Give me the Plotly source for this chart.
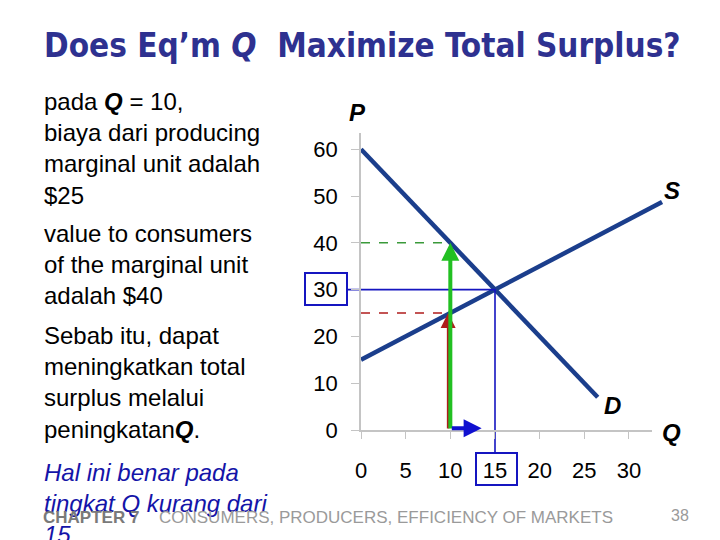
import plotly.graph_objects as go

# ---------------- data ----------------
demand_q = [0, 26.5]
demand_p = [60, 7]
supply_q = [0, 33.7]
supply_p = [15, 48.7]
x_ticks = [0, 5, 10, 15, 20, 25, 30]
y_ticks = [0, 10, 20, 30, 40, 50, 60]
eq_q, eq_p = 15, 30
marg_q = 10
value_p = 40
cost_p = 25
arrow_q_end = 13.5

# ---------------- geometry helpers (reference pixel -> figure coords) ----------------
OFF = 8                 # page body margin
W, H = 720 - OFF, 540 - OFF
X0, Y0 = 361, 430       # reference pixel of origin
SX, SY = 8.933, 4.68    # pixels per unit

def qx(px):
    return (px - X0) / SX

def py(pyx):
    return (Y0 - pyx) / SY

def fx(px):
    return (px - OFF) / W

def fy(pyx):
    return (540 - pyx) / H

AX_QMAX, AX_PMAX = 32.6, 63.5

fig = go.Figure()

navy = "#1b3e8c"
blue = "#1515c0"
green = "#22c022"
dgreen = "#3a9a3a"
red = "#b01c1c"

# supply & demand
fig.add_trace(go.Scatter(x=demand_q, y=demand_p, mode="lines",
                         line=dict(color=navy, width=4.5), hoverinfo="skip"))
fig.add_trace(go.Scatter(x=supply_q, y=supply_p, mode="lines",
                         line=dict(color=navy, width=4.5), hoverinfo="skip"))
# dashed guide lines
fig.add_trace(go.Scatter(x=[0, marg_q], y=[value_p, value_p], mode="lines",
                         line=dict(color=dgreen, width=1.6, dash="dash"), hoverinfo="skip"))
fig.add_trace(go.Scatter(x=[0, marg_q], y=[cost_p, cost_p], mode="lines",
                         line=dict(color=red, width=1.6, dash="dash"), hoverinfo="skip"))
# equilibrium drop lines (to boxed labels)
fig.add_trace(go.Scatter(x=[qx(347), eq_q, eq_q], y=[eq_p, eq_p, py(453)], mode="lines",
                         line=dict(color=blue, width=1.6), hoverinfo="skip"))

# dummy trace on the visible axes
fig.add_trace(go.Scatter(x=[eq_q], y=[eq_p], xaxis="x2", yaxis="y2", mode="markers",
                         marker=dict(opacity=0), hoverinfo="skip"))

# boxes around 30 and 15
fig.add_shape(type="rect", xref="x", yref="y", x0=qx(305), x1=qx(347),
              y0=py(305), y1=py(273), line=dict(color=blue, width=2))
fig.add_shape(type="rect", xref="x", yref="y", x0=qx(476), x1=qx(517),
              y0=py(485), y1=py(453), line=dict(color=blue, width=2))

ann = []
# arrows
ann.append(dict(x=marg_q - 0.25, y=cost_p, ax=marg_q - 0.25, ay=0, xref="x", yref="y",
                axref="x", ayref="y", showarrow=True, arrowhead=2, arrowsize=1.2,
                arrowwidth=2.5, arrowcolor=red, text=""))
ann.append(dict(x=marg_q, y=value_p, ax=marg_q, ay=0, xref="x", yref="y",
                axref="x", ayref="y", showarrow=True, arrowhead=2, arrowsize=0.9,
                arrowwidth=4, arrowcolor=green, text=""))
ann.append(dict(x=arrow_q_end, y=0.35, ax=marg_q, ay=0.35, xref="x", yref="y",
                axref="x", ayref="y", showarrow=True, arrowhead=2, arrowsize=0.9,
                arrowwidth=4, arrowcolor="#1010d0", text=""))

lab_font = dict(family="Liberation Sans, Arial, sans-serif", size=24, color="black")
for t, px_, pyx in [("P", 357, 112), ("S", 672, 190), ("D", 612, 405), ("Q", 671, 432)]:
    ann.append(dict(x=qx(px_), y=py(pyx), xref="x", yref="y", text=f"<b><i>{t}</i></b>",
                    showarrow=False, font=lab_font))

# title
ann.append(dict(x=fx(42), y=fy(46), xref="paper", yref="paper", xanchor="left",
                yanchor="middle", showarrow=False,
                text="<b>Does Eq’m <i>Q</i>  Maximize Total Surplus?</b>",
                font=dict(family="Liberation Sans Narrow, DejaVu Sans Condensed, Arial Narrow, sans-serif",
                          size=33, color="#2e3190")))

body_font = dict(family="Liberation Sans, Arial, sans-serif", size=24, color="black")
blocks = [
    (86, "pada <b><i>Q</i></b> = 10,<br>biaya dari producing<br>marginal unit adalah<br>$25"),
    (218, "value to consumers<br>of the marginal unit<br>adalah $40"),
    (320, "Sebab itu, dapat<br>meningkatkan total<br>surplus melalui<br>peningkatan<b><i>Q</i></b>."),
]
for top, txt in blocks:
    ann.append(dict(x=fx(42), y=fy(top), xref="paper", yref="paper", xanchor="left",
                    yanchor="top", align="left", showarrow=False, text=txt, font=body_font))

ann.append(dict(x=fx(42), y=fy(457), xref="paper", yref="paper", xanchor="left",
                yanchor="top", align="left", showarrow=False,
                text="<i>Hal ini benar pada<br>tingkat Q kurang dari<br>15</i>",
                font=dict(family="Liberation Sans, Arial, sans-serif", size=24, color="#1414a8")))

# footer
ann.append(dict(x=fx(41), y=fy(517), xref="paper", yref="paper", xanchor="left",
                yanchor="middle", showarrow=False, text="<b>CHAPTER 7</b>",
                font=dict(family="Liberation Sans, Arial, sans-serif", size=17, color="#7a7a7a")))
ann.append(dict(x=fx(157), y=fy(517), xref="paper", yref="paper", xanchor="left",
                yanchor="middle", showarrow=False,
                text="CONSUMERS, PRODUCERS, EFFICIENCY OF MARKETS",
                font=dict(family="Liberation Sans, Arial, sans-serif", size=17, color="#9a9a9a")))
ann.append(dict(x=fx(691), y=fy(515), xref="paper", yref="paper", xanchor="right",
                yanchor="middle", showarrow=False, text="38",
                font=dict(family="Liberation Sans, Arial, sans-serif", size=16, color="#9a9a9a")))

tick_font = dict(family="Liberation Sans, Arial, sans-serif", size=22, color="black")

fig.update_layout(
    template="none",
    width=W, height=H, margin=dict(l=0, r=0, t=0, b=0, pad=0, autoexpand=False),
    paper_bgcolor="white", plot_bgcolor="rgba(0,0,0,0)",
    showlegend=False,
    xaxis=dict(range=[qx(OFF), qx(720)], visible=False, fixedrange=True, automargin=False),
    yaxis=dict(range=[py(540), py(OFF)], visible=False, fixedrange=True, automargin=False),
    xaxis2=dict(domain=[fx(X0), fx(X0 + AX_QMAX * SX)], range=[0, AX_QMAX],
                anchor="y2", showgrid=False, zeroline=False, showline=True, automargin=False,
                linecolor="#c4c4c4", linewidth=1.5, ticks="outside", ticklen=7,
                tickcolor="#c4c4c4", tickwidth=1.2, tickvals=x_ticks,
                ticktext=[str(v) for v in x_ticks], tickfont=tick_font,
                ticklabelstandoff=13),
    yaxis2=dict(domain=[fy(Y0), fy(Y0 - AX_PMAX * SY)], range=[0, AX_PMAX],
                anchor="x2", showgrid=False, zeroline=False, showline=True, automargin=False,
                linecolor="#c4c4c4", linewidth=1.5, ticks="outside", ticklen=8,
                tickcolor="#c4c4c4", tickwidth=1.2, tickvals=y_ticks,
                ticktext=[str(v) for v in y_ticks], tickfont=tick_font,
                ticklabelstandoff=9),
    annotations=ann,
)

fig.write_html("out.html")
